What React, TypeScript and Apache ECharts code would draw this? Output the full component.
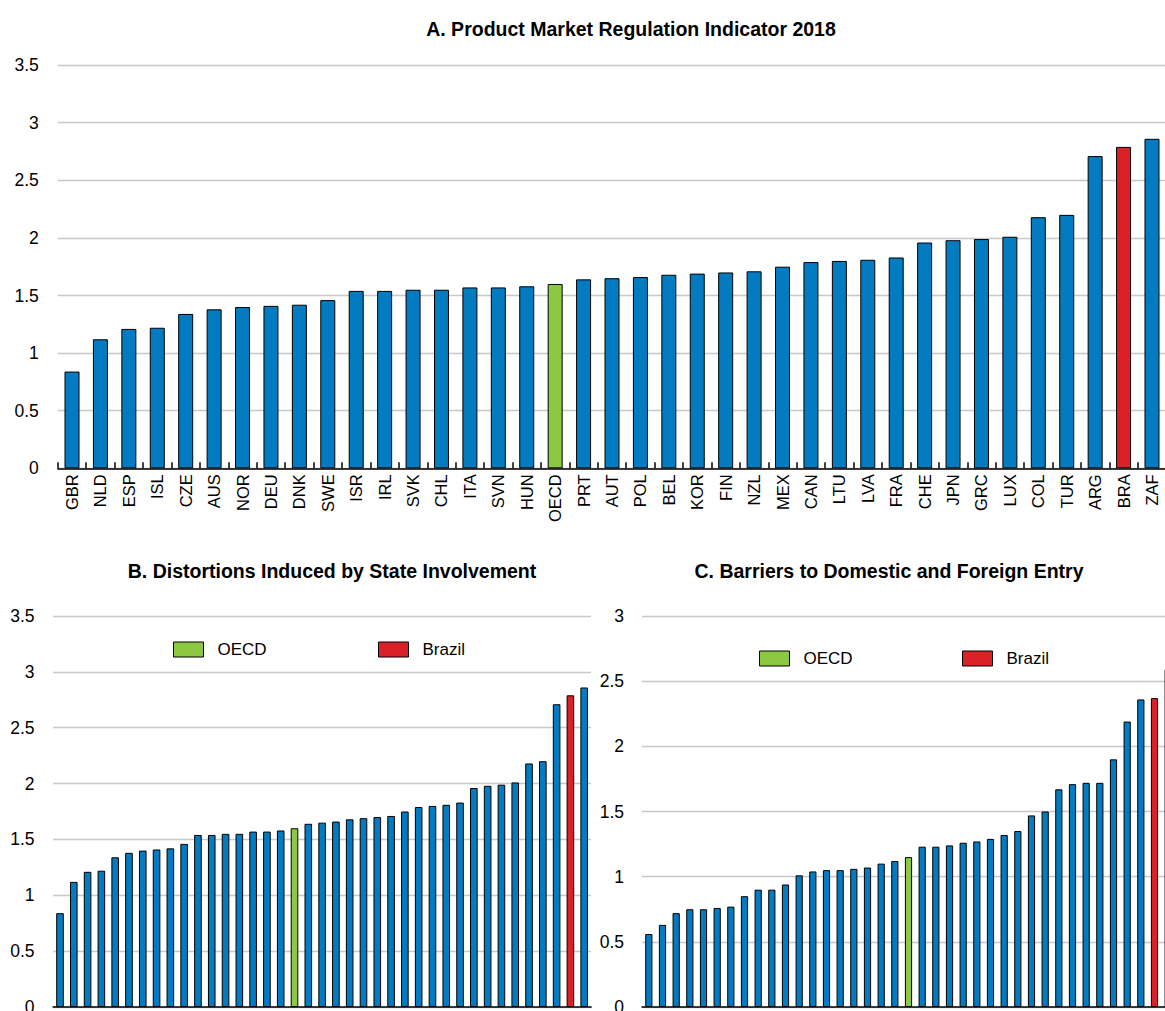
import React, { useEffect, useRef } from "react";
import * as echarts from "echarts";

// ---------- Data ----------
const categoriesA = [
  "GBR", "NLD", "ESP", "ISL", "CZE", "AUS", "NOR", "DEU", "DNK", "SWE",
  "ISR", "IRL", "SVK", "CHL", "ITA", "SVN", "HUN", "OECD", "PRT", "AUT",
  "POL", "BEL", "KOR", "FIN", "NZL", "MEX", "CAN", "LTU", "LVA", "FRA",
  "CHE", "JPN", "GRC", "LUX", "COL", "TUR", "ARG", "BRA", "ZAF",
];
const valuesA = [
  0.84, 1.12, 1.21, 1.22, 1.34, 1.38, 1.40, 1.41, 1.42, 1.46,
  1.54, 1.54, 1.55, 1.55, 1.57, 1.57, 1.58, 1.60, 1.64, 1.65,
  1.66, 1.68, 1.69, 1.70, 1.71, 1.75, 1.79, 1.80, 1.81, 1.83,
  1.96, 1.98, 1.99, 2.01, 2.18, 2.20, 2.71, 2.79, 2.86,
];

const categoriesB = categoriesA;
const valuesB = [
  0.84, 1.12, 1.21, 1.22, 1.34, 1.38, 1.40, 1.41, 1.42, 1.46,
  1.54, 1.54, 1.55, 1.55, 1.57, 1.57, 1.58, 1.60, 1.64, 1.65,
  1.66, 1.68, 1.69, 1.70, 1.71, 1.75, 1.79, 1.80, 1.81, 1.83,
  1.96, 1.98, 1.99, 2.01, 2.18, 2.20, 2.71, 2.79, 2.86,
];

const categoriesC = [
  "1", "2", "3", "4", "5", "6", "7", "8", "9", "10",
  "11", "12", "13", "14", "15", "16", "17", "18", "19", "OECD",
  "21", "22", "23", "24", "25", "26", "27", "28", "29", "30",
  "31", "32", "33", "34", "35", "36", "37", "BRA", "39",
];
const valuesC = [
  0.56, 0.63, 0.72, 0.75, 0.75, 0.76, 0.77, 0.85, 0.90, 0.90,
  0.94, 1.01, 1.04, 1.05, 1.05, 1.06, 1.07, 1.10, 1.12, 1.15,
  1.23, 1.23, 1.24, 1.26, 1.27, 1.29, 1.32, 1.35, 1.47, 1.50,
  1.67, 1.71, 1.72, 1.72, 1.90, 2.19, 2.36, 2.37, 2.59,
];

const yTicksA = { min: 0, max: 3.5, interval: 0.5 };
const yTicksB = { min: 0, max: 3.5, interval: 0.5 };
const yTicksC = { min: 0, max: 3, interval: 0.5 };

const titles = [
  "A. Product Market Regulation Indicator 2018",
  "B. Distortions Induced by State Involvement",
  "C. Barriers to Domestic and Foreign Entry",
];
const legendNames = ["OECD", "Brazil"];

// ---------- Styles ----------
const BLUE = "#037BC1";
const GREEN = "#8CC841";
const RED = "#DA2128";
const GRID_COLOR = "#c8c8c8";
const FONT = "'Liberation Sans', Arial, sans-serif";

function colorFor(cat: string) {
  if (cat === "OECD") return GREEN;
  if (cat === "BRA") return RED;
  return BLUE;
}

function barData(cats: string[], vals: number[]) {
  return vals.map((v, i) => ({
    value: v,
    itemStyle: { color: colorFor(cats[i]) },
  }));
}

function yAxisCfg(gridIndex: number, t: { min: number; max: number; interval: number }, margin: number) {
  return {
    type: "value",
    gridIndex,
    min: t.min,
    max: t.max,
    interval: t.interval,
    axisLine: { show: false },
    axisTick: { show: false },
    axisLabel: { color: "#000", fontSize: 17.5, fontFamily: FONT, margin },
    splitLine: { show: true, lineStyle: { color: GRID_COLOR, width: 1.4 } },
  };
}

function legendCfg(name: string, left: number, top: number) {
  return {
    data: [name],
    left,
    top,
    orient: "horizontal",
    icon: "rect",
    itemWidth: 30,
    itemHeight: 15,
    selectedMode: false,
    itemStyle: { borderColor: "#000", borderWidth: 1, opacity: 1 },
    textStyle: {
      color: "#000",
      fontSize: 17,
      fontFamily: FONT,
      lineHeight: 15,
      padding: [0, 0, 0, 9],
    },
  };
}

function titleCfg(text: string, left: number, top: number) {
  return {
    text,
    left,
    top,
    textAlign: "center",
    textVerticalAlign: "middle",
    padding: 0,
    textStyle: { fontSize: 19.5, fontWeight: "bold", color: "#000", fontFamily: FONT },
  };
}

export default function App() {
  const ref = useRef<HTMLDivElement>(null);

  useEffect(() => {
    if (!ref.current) return;
    const chart = echarts.init(ref.current, undefined, { renderer: "svg" });
    const barBorder = { borderColor: "#000", borderWidth: 1 };

    const option: any = {
      animation: false,
      backgroundColor: "#fff",
      title: [
        titleCfg(titles[0], 631, 29),
        titleCfg(titles[1], 332, 570.5),
        titleCfg(titles[2], 889, 570.5),
      ],
      legend: [
        legendCfg(legendNames[0], 168, 636),
        legendCfg(legendNames[1], 373, 636),
        legendCfg(legendNames[0], 754, 645),
        legendCfg(legendNames[1], 957, 645),
      ],
      grid: [
        { left: 57.8, top: 65.1, width: 1108.4, height: 403.2 },
        { left: 53.1, top: 616, width: 538, height: 391 },
        { left: 642, top: 616, width: 533, height: 391 },
      ],
      xAxis: [
        {
          type: "category", gridIndex: 0, data: categoriesA, boundaryGap: true,
          axisLine: { lineStyle: { color: "#000", width: 1.5 } },
          axisTick: { show: true, inside: true, length: 6, interval: 0, lineStyle: { color: "#000", width: 1.5 } },
          axisLabel: { rotate: 90, interval: 0, margin: 6, color: "#000", fontSize: 16.5, fontFamily: FONT },
          splitLine: { show: false },
        },
        {
          type: "category", gridIndex: 1, data: categoriesB, boundaryGap: true,
          axisLine: { lineStyle: { color: "#000", width: 1.5 } },
          axisTick: { show: false },
          axisLabel: { show: false },
        },
        {
          type: "category", gridIndex: 2, data: categoriesC, boundaryGap: true,
          axisLine: { lineStyle: { color: "#000", width: 1.5 } },
          axisTick: { show: false },
          axisLabel: { show: false },
        },
      ],
      yAxis: [
        yAxisCfg(0, yTicksA, 19),
        yAxisCfg(1, yTicksB, 18.6),
        yAxisCfg(2, yTicksC, 18),
      ],
      series: [
        {
          name: "PMR", type: "bar", xAxisIndex: 0, yAxisIndex: 0, barWidth: 15,
          itemStyle: barBorder, data: barData(categoriesA, valuesA),
        },
        {
          name: "State", type: "bar", xAxisIndex: 1, yAxisIndex: 1, barWidth: 7.6,
          itemStyle: barBorder, data: barData(categoriesB, valuesB),
        },
        {
          name: "Entry", type: "bar", xAxisIndex: 2, yAxisIndex: 2, barWidth: 7.2,
          itemStyle: barBorder, data: barData(categoriesC, valuesC),
        },
        {
          name: legendNames[0], type: "scatter", xAxisIndex: 1, yAxisIndex: 1, data: [],
          itemStyle: { color: GREEN, borderColor: "#000", borderWidth: 1, opacity: 1 },
        },
        {
          name: legendNames[1], type: "scatter", xAxisIndex: 1, yAxisIndex: 1, data: [],
          itemStyle: { color: RED, borderColor: "#000", borderWidth: 1, opacity: 1 },
        },
      ],
    };
    chart.setOption(option);
    return () => chart.dispose();
  }, []);

  return (
    <div
      style={{
        position: "fixed", left: 0, top: 0, width: 1165, height: 1011,
        overflow: "hidden", background: "#fff",
      }}
    >
      <div ref={ref} style={{ width: 1200, height: 1030 }} />
    </div>
  );
}
